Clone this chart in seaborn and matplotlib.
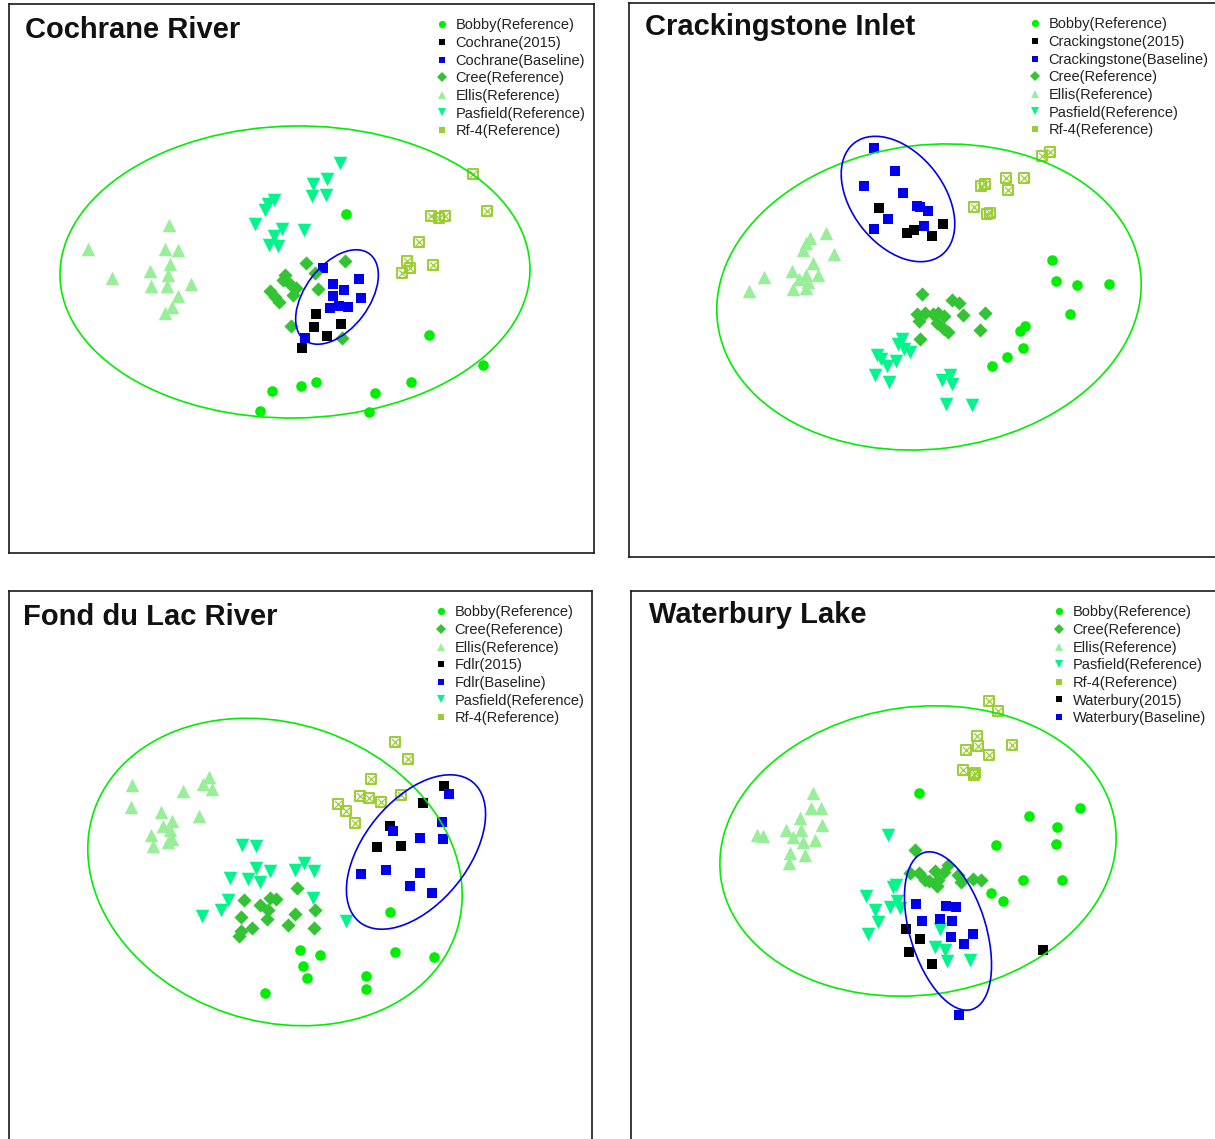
import pandas as pd
import matplotlib
matplotlib.use('Agg')
import matplotlib.pyplot as plt
from matplotlib.patches import Ellipse
from matplotlib.lines import Line2D
import seaborn as sns

# NMDS scores (image pixel units, y grows downward)
# Cochrane River
c_bobby = [(346, 214), (429, 335), (483, 365), (272, 391), (301, 386), (316, 382), (375, 393), (411, 382), (260, 411), (369, 412)]
c_2015 = [(316, 314), (314, 327), (341, 324), (327, 336), (302, 348)]
c_base = [(323, 268), (333, 284), (359, 279), (344, 290), (333, 296), (361, 298), (330, 308), (339, 306), (348, 307), (305, 338)]
c_cree = [(306, 263), (345, 261), (285, 275), (315, 273), (290, 284), (296, 288), (293, 295), (318, 289), (270, 291), (275, 297), (279, 302), (291, 326), (342, 338), (283, 280)]
c_ellis = [(169, 225), (88, 249), (165, 249), (178, 250), (170, 264), (150, 271), (112, 278), (168, 275), (151, 286), (167, 286), (191, 284), (178, 296), (172, 307), (165, 313)]
c_pasf = [(340, 163), (327, 179), (313, 184), (312, 196), (326, 195), (274, 200), (268, 204), (265, 210), (255, 224), (282, 229), (304, 230), (274, 236), (269, 245), (278, 246)]
c_rf4 = [(473, 174), (487, 211), (431, 216), (439, 218), (445, 216), (419, 242), (407, 261), (410, 268), (402, 273), (433, 265)]

# Crackingstone Inlet
k_bobby = [(1052, 260), (1056, 281), (1077, 285), (1109, 284), (1070, 314), (1025, 326), (1020, 331), (1023, 348), (1007, 357), (992, 366)]
k_2015 = [(879, 208), (907, 233), (914, 230), (932, 236), (943, 224)]
k_base = [(874, 148), (895, 171), (864, 186), (903, 193), (917, 206), (920, 207), (928, 211), (888, 219), (924, 226), (874, 229)]
k_cree = [(922, 294), (952, 300), (959, 303), (985, 313), (917, 314), (925, 313), (933, 314), (938, 313), (944, 316), (963, 315), (919, 321), (937, 323), (944, 329), (948, 332), (980, 330), (920, 339)]
k_ellis = [(826, 233), (810, 238), (806, 243), (803, 250), (834, 254), (813, 263), (792, 271), (764, 277), (806, 275), (818, 275), (749, 291), (793, 289), (806, 288), (808, 282), (799, 279)]
k_pasf = [(902, 339), (898, 344), (910, 352), (904, 349), (877, 355), (881, 359), (887, 366), (896, 361), (875, 375), (889, 382), (942, 380), (950, 375), (952, 384), (946, 404), (972, 405)]
k_rf4 = [(1050, 152), (1042, 156), (1024, 178), (1006, 178), (1008, 190), (985, 184), (981, 186), (974, 207), (987, 214), (990, 213)]

# Fond du Lac River
f_bobby = [(390, 912), (300, 950), (320, 955), (395, 952), (434, 957), (303, 966), (307, 978), (366, 976), (366, 989), (265, 993)]
f_cree = [(297, 888), (244, 900), (270, 898), (276, 899), (260, 905), (268, 910), (315, 910), (241, 917), (295, 914), (267, 919), (288, 925), (314, 928), (252, 928), (241, 931), (239, 936)]
f_ellis = [(132, 785), (209, 777), (203, 784), (212, 789), (183, 791), (131, 807), (161, 812), (199, 816), (172, 821), (163, 826), (170, 830), (151, 835), (172, 839), (153, 846), (168, 842)]
f_2015 = [(444, 786), (423, 803), (390, 826), (377, 847), (401, 846)]
f_base = [(449, 794), (442, 822), (393, 831), (420, 838), (443, 839), (361, 874), (386, 870), (420, 873), (410, 886), (432, 893)]
f_pasf = [(242, 845), (256, 846), (304, 863), (256, 868), (270, 871), (295, 870), (314, 871), (230, 878), (248, 879), (260, 882), (228, 900), (313, 898), (221, 910), (202, 916), (346, 921)]
f_rf4 = [(395, 742), (408, 759), (371, 779), (360, 796), (369, 798), (381, 802), (401, 795), (338, 804), (346, 811), (355, 823)]

# Waterbury Lake
w_bobby = [(919, 793), (1080, 808), (1029, 816), (1057, 827), (996, 845), (1056, 844), (1023, 880), (1062, 880), (991, 893), (1003, 901)]
w_cree = [(915, 850), (910, 873), (919, 873), (935, 871), (948, 865), (929, 881), (938, 880), (937, 886), (958, 875), (961, 882), (973, 879), (981, 880), (925, 880), (944, 872)]
w_ellis = [(813, 793), (811, 808), (821, 808), (800, 818), (822, 825), (786, 830), (757, 835), (763, 836), (801, 830), (793, 837), (815, 840), (803, 842), (790, 853), (805, 855), (789, 863)]
w_pasf = [(888, 835), (896, 885), (893, 887), (866, 896), (897, 901), (875, 910), (890, 907), (900, 908), (878, 922), (868, 934), (940, 929), (935, 947), (945, 950), (947, 961), (970, 960)]
w_rf4 = [(989, 701), (998, 711), (977, 736), (966, 750), (978, 746), (989, 755), (1012, 745), (963, 770), (974, 775), (975, 773)]
w_2015 = [(906, 929), (920, 939), (909, 952), (932, 964), (1043, 950)]
w_base = [(916, 904), (946, 906), (956, 907), (922, 921), (940, 919), (952, 921), (951, 937), (973, 934), (964, 944), (959, 1015)]

# ellipses: (center x, center y, semi-major, semi-minor, angle in degrees)
c_ell_ref = (295, 272, 235, 146, 1)
c_ell_site = (337, 297, 54, 32, 53)
k_ell_ref = (929, 297, 213, 152, 7)
k_ell_site = (898, 199, 71, 46, -52)
f_ell_ref = (275, 872, 191, 149, -18.5)
f_ell_site = (416, 852, 90, 52, 51)
w_ell_ref = (918, 851, 199, 144, 7.8)
w_ell_site = (948, 931, 82, 38, -73)

sns.set_theme(style='white')
plt.rcParams['font.family'] = ['Liberation Sans', 'DejaVu Sans']

styles = {
    'bobby': dict(marker='o', color='#00EE00', s=58, lm='o', lms=5.2),
    'cree': dict(marker='D', color='#33C433', s=52, lm='D', lms=4.8),
    'ellis': dict(marker='^', color='#99EE99', s=95, lm='^', lms=6.2),
    'pasf': dict(marker='v', color='#00F58A', s=95, lm='v', lms=6.2),
    'rf4': dict(marker='s', color='#9ACD32', s=58, lm='s', lms=5),
    'y2015': dict(marker='s', color='#000000', s=56, lm='s', lms=5),
    'base': dict(marker='s', color='#0000EE', s=56, lm='s', lms=5),
}

panels = [
    dict(title='Cochrane River', frame=(9, 4, 594, 553), title_xy=(25, 30), leg_xy=(442, 23),
         groups=[('Bobby(Reference)', 'bobby', c_bobby), ('Cochrane(2015)', 'y2015', c_2015),
                 ('Cochrane(Baseline)', 'base', c_base), ('Cree(Reference)', 'cree', c_cree),
                 ('Ellis(Reference)', 'ellis', c_ellis), ('Pasfield(Reference)', 'pasf', c_pasf),
                 ('Rf-4(Reference)', 'rf4', c_rf4)],
         ellipses=[c_ell_ref, c_ell_site]),
    dict(title='Crackingstone Inlet', frame=(629, 3, 1225, 557), title_xy=(645, 27), leg_xy=(1035, 22),
         groups=[('Bobby(Reference)', 'bobby', k_bobby), ('Crackingstone(2015)', 'y2015', k_2015),
                 ('Crackingstone(Baseline)', 'base', k_base), ('Cree(Reference)', 'cree', k_cree),
                 ('Ellis(Reference)', 'ellis', k_ellis), ('Pasfield(Reference)', 'pasf', k_pasf),
                 ('Rf-4(Reference)', 'rf4', k_rf4)],
         ellipses=[k_ell_ref, k_ell_site]),
    dict(title='Fond du Lac River', frame=(9, 591, 592, 1150), title_xy=(23, 617), leg_xy=(441, 610),
         groups=[('Bobby(Reference)', 'bobby', f_bobby), ('Cree(Reference)', 'cree', f_cree),
                 ('Ellis(Reference)', 'ellis', f_ellis), ('Fdlr(2015)', 'y2015', f_2015),
                 ('Fdlr(Baseline)', 'base', f_base), ('Pasfield(Reference)', 'pasf', f_pasf),
                 ('Rf-4(Reference)', 'rf4', f_rf4)],
         ellipses=[f_ell_ref, f_ell_site]),
    dict(title='Waterbury Lake', frame=(631, 591, 1225, 1150), title_xy=(649, 615), leg_xy=(1059, 610),
         groups=[('Bobby(Reference)', 'bobby', w_bobby), ('Cree(Reference)', 'cree', w_cree),
                 ('Ellis(Reference)', 'ellis', w_ellis), ('Pasfield(Reference)', 'pasf', w_pasf),
                 ('Rf-4(Reference)', 'rf4', w_rf4), ('Waterbury(2015)', 'y2015', w_2015),
                 ('Waterbury(Baseline)', 'base', w_base)],
         ellipses=[w_ell_ref, w_ell_site]),
]

W, H = 1215, 1139
fig = plt.figure(figsize=(W / 100, H / 100), dpi=100)
fig.patch.set_facecolor('white')

for p in panels:
    l, t, r, b = p['frame']
    ax = fig.add_axes([l / W, 1 - b / H, (r - l) / W, (b - t) / H])
    ax.set_xticks([])
    ax.set_yticks([])
    for sp in ax.spines.values():
        sp.set_color('#1a1a1a')
        sp.set_linewidth(1.2)

    rows = []
    for label, kind, pts in p['groups']:
        for x, y in pts:
            rows.append({'x': x, 'y': y, 'group': label, 'kind': kind})
    df = pd.DataFrame(rows)

    handles = []
    for label, kind, pts in p['groups']:
        st = styles[kind]
        sub = df[df['group'] == label]
        if kind == 'rf4':
            ax.scatter(sub['x'], sub['y'], marker='s', s=st['s'], facecolor='none',
                       edgecolor=st['color'], linewidth=1.4, zorder=3)
            ax.scatter(sub['x'], sub['y'], marker='x', s=st['s'] * 0.45,
                       color=st['color'], linewidth=0.9, zorder=3)
        else:
            sns.scatterplot(data=sub, x='x', y='y', marker=st['marker'], color=st['color'],
                            s=st['s'], linewidth=0, edgecolor=st['color'], ax=ax,
                            legend=False, zorder=3)
        handles.append(Line2D([0], [0], marker=st['lm'], color=st['color'], linestyle='none',
                              markersize=st['lms'], markeredgewidth=0))

    for (cx, cy, a, bb, ang), col in zip(p['ellipses'], ['#00EE00', '#0000EE']):
        ax.add_patch(Ellipse((cx, cy), 2 * a, 2 * bb, angle=-ang, fill=False,
                             edgecolor=col, linewidth=1.2, zorder=4))

    ax.set_xlabel('')
    ax.set_ylabel('')
    ax.set_xlim(l, r)
    ax.set_ylim(b, t)

    tx, ty = p['title_xy']
    ax.text(tx, ty, p['title'], ha='left', va='center', fontsize=21,
            fontweight='bold', color='#111111', zorder=5)

    fs = 10.5
    em = fs * 100 / 72
    lx, ly = p['leg_xy']
    leg = ax.legend(handles, [g[0] for g in p['groups']], loc='upper left',
                    bbox_to_anchor=(lx - em * 0.5, ly - 0.32 * em), bbox_transform=ax.transData,
                    frameon=False, fontsize=fs, handlelength=1.0, handletextpad=0.43,
                    labelspacing=0.25, borderpad=0, borderaxespad=0)
    for txt in leg.get_texts():
        txt.set_color('#222222')

fig.savefig('out.png', dpi=100)
